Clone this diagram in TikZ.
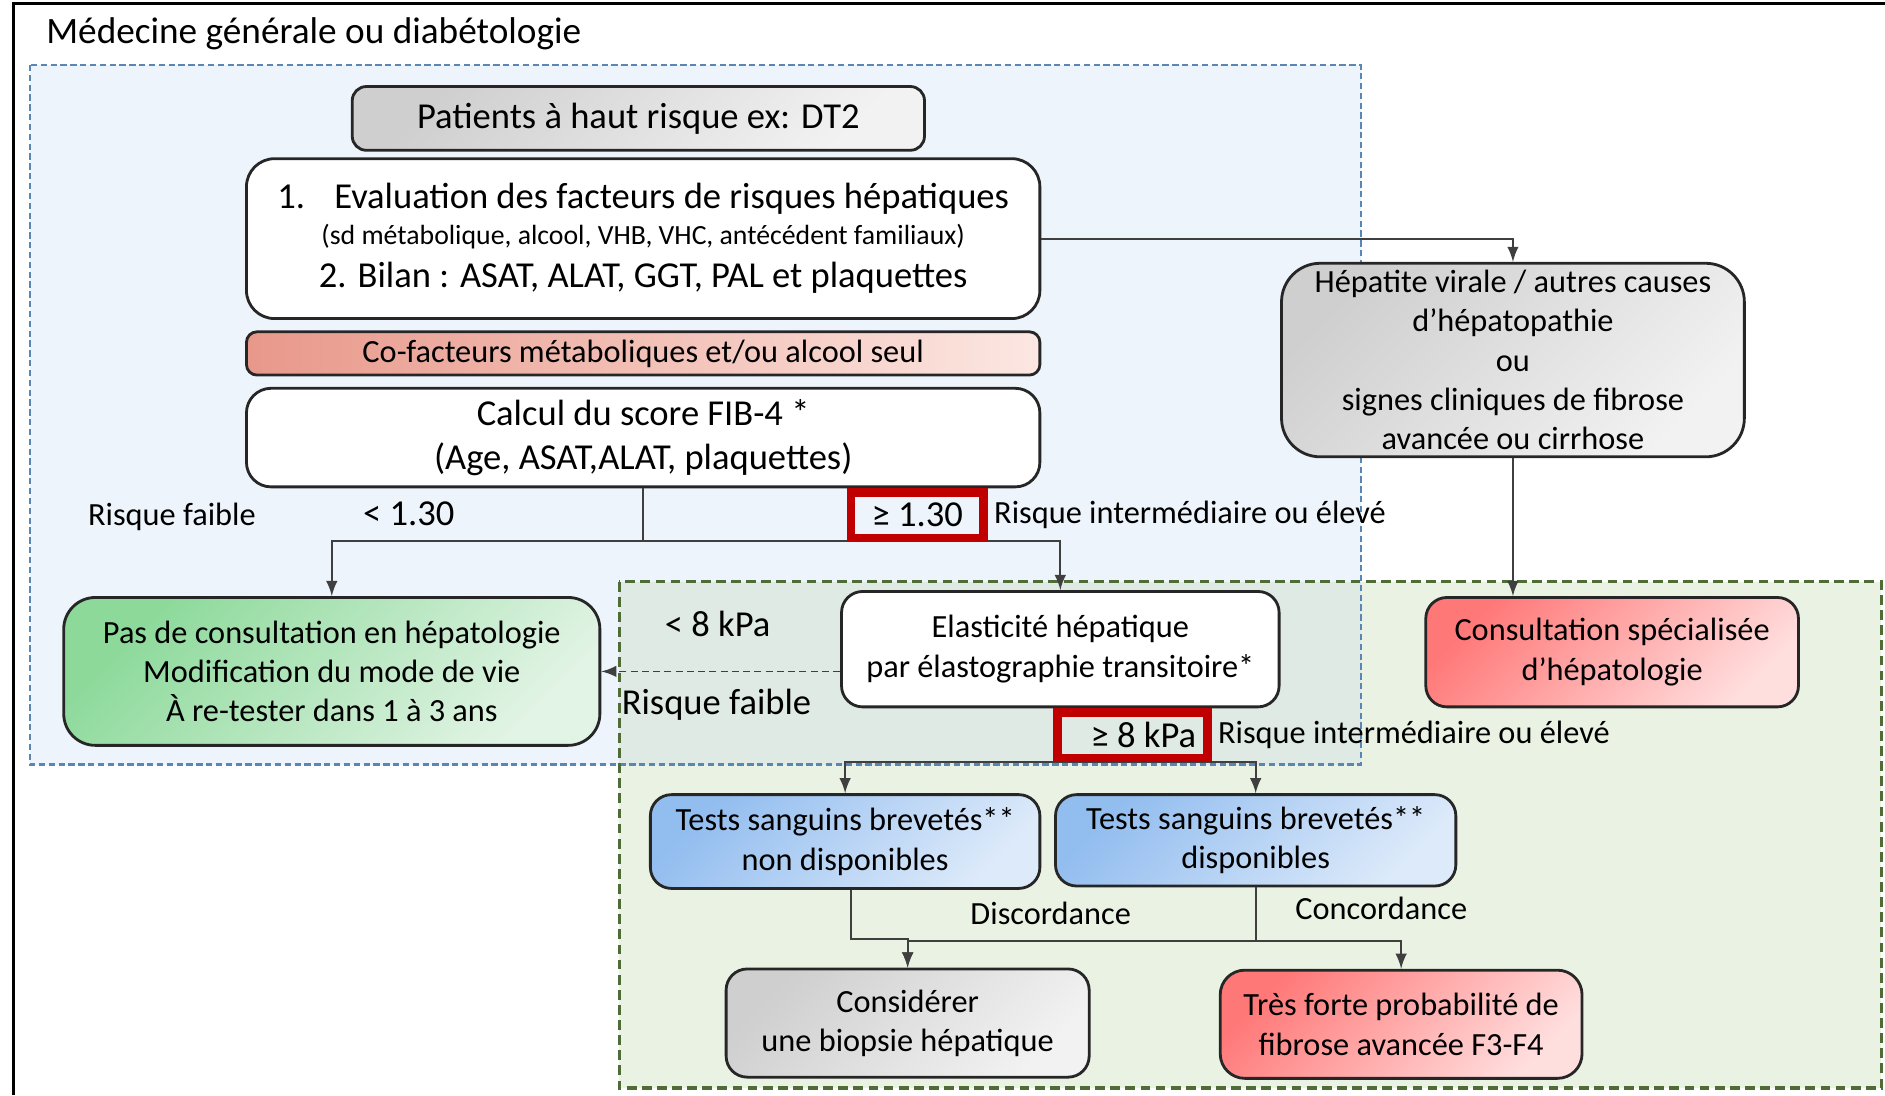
\documentclass[tikz,border=0pt]{standalone}
\usepackage{fontspec}
\setmainfont{Carlito}
\usepackage{tikz}
\usetikzlibrary{arrows, positioning}

\definecolor{zone-blue}{HTML}{EDF4FB}
\definecolor{zone-green}{HTML}{EAF3E3}
\definecolor{zone-mix}{HTML}{DEEAE3}
\definecolor{dash-blue}{HTML}{5A86B6}
\definecolor{dash-green}{HTML}{4F6B36}
\definecolor{gray-dark}{HTML}{CFCFCF}
\definecolor{gray-light}{HTML}{F2F2F2}
\definecolor{green-dark}{HTML}{8CD99A}
\definecolor{green-light}{HTML}{E2F4E5}
\definecolor{red-dark}{HTML}{FF7878}
\definecolor{red-light}{HTML}{FFDEDE}
\definecolor{blue-dark}{HTML}{92BDEF}
\definecolor{blue-light}{HTML}{DDEAFA}
\definecolor{salmon-dark}{HTML}{E8988A}
\definecolor{salmon-light}{HTML}{FCE7E2}
\definecolor{cut-red}{HTML}{C00000}
\definecolor{wire-gray}{HTML}{3F3F3F}

\newlength\pxu
\setlength\pxu{0.012022cm}
\newcommand\txt{\fontsize{9.2pt}{11.2pt}\selectfont}
\newcommand\txtbig{\fontsize{10.4pt}{12.4pt}\selectfont}
\newcommand\txtsmall{\fontsize{7.9pt}{9.5pt}\selectfont}
\newcommand\txttitle{\fontsize{10.6pt}{12.7pt}\selectfont}

\begin{document}
\begin{tikzpicture}[
    x=0.012022cm, y=-0.012022cm,
    box/.style={rectangle, draw=black!85, line width=0.8pt, rounded corners=5pt, align=center, inner sep=0pt, font=\txt},
    plain/.style={box, fill=white},
    graybox/.style={box, top color=gray-dark, bottom color=gray-light, shading angle=45},
    greenbox/.style={box, top color=green-dark, bottom color=green-light, shading angle=45},
    redbox/.style={box, top color=red-dark, bottom color=red-light, shading angle=45},
    bluebox/.style={box, top color=blue-dark, bottom color=blue-light, shading angle=45},
    cutbox/.style={rectangle, draw=cut-red, line width=2.4pt, inner sep=0pt, minimum height=38\pxu, font=\txtbig},
    note/.style={inner sep=0pt, font=\txt},
    notebig/.style={inner sep=0pt, font=\txtbig},
    wire/.style={draw=wire-gray, line width=0.5pt},
    arrow/.style={wire, ->, >=latex},
    dasharrow/.style={arrow, dash pattern=on 2pt off 1.2pt}
]
\useasboundingbox (0,0) rectangle (1568,911);

% zones
\fill[zone-blue] (25,54) rectangle (1132,636);
\fill[zone-green] (515,484) rectangle (1565,905);
\fill[zone-mix] (515,484) rectangle (1132,636);
\draw[dash-blue, line width=0.7pt, dash pattern=on 1.8pt off 1pt] (25,54) rectangle (1132,636);
\draw[dash-green, line width=0.9pt, dash pattern=on 2.8pt off 1.5pt] (515,484) rectangle (1565,905);
\draw[line width=0.9pt] (11,911) -- (11,3) -- (1568,3);

\node[anchor=west, inner sep=0pt, font=\txttitle] (title) at (38,28) {Médecine générale ou diabétologie};

% parcours en médecine générale
\node[graybox, rounded corners=4pt, minimum width=476\pxu, minimum height=53\pxu, font=\txtbig] (patients) at (531,98.5) {Patients à haut risque ex: DT2};
\node[plain, rounded corners=8pt, minimum width=660\pxu, minimum height=133\pxu, font=\txtbig] (eval) at (535,198.5)
    {1.\hspace{0.8em}Evaluation des facteurs de risques hépatiques\\[-2.3pt]
     {\txtsmall (sd métabolique, alcool, VHB, VHC, antécédent familiaux)}\\
     2. Bilan : ASAT, ALAT, GGT, PAL et plaquettes};
\node[box, rounded corners=3pt, left color=salmon-dark, right color=salmon-light, minimum width=660\pxu, minimum height=36\pxu] (cofact) at (535,294) {Co-facteurs métaboliques et/ou alcool seul};
\node[plain, rounded corners=7pt, minimum width=660\pxu, minimum height=82\pxu, font=\txtbig] (fib4) at (535,364) {Calcul du score FIB-4 *\\(Age, ASAT,ALAT, plaquettes)};
\node[graybox, rounded corners=11pt, minimum width=385\pxu, minimum height=161\pxu] (hep) at (1258.5,299.5)
    {Hépatite virale / autres causes\\d’hépatopathie\\ou\\signes cliniques de fibrose\\avancée ou cirrhose};
\node[greenbox, rounded corners=9pt, minimum width=446\pxu, minimum height=123\pxu] (nocons) at (276,558.5)
    {Pas de consultation en hépatologie\\Modification du mode de vie\\À re-tester dans 1 à 3 ans};
\node[plain, rounded corners=6pt, minimum width=364\pxu, minimum height=96\pxu] (elast) at (882,540) {Elasticité hépatique\\par élastographie transitoire*};
\node[redbox, rounded corners=6pt, minimum width=310\pxu, minimum height=91\pxu] (consult) at (1341,542.5) {Consultation spécialisée\\d’hépatologie};

% tests sanguins
\node[bluebox, rounded corners=6pt, minimum width=324\pxu, minimum height=78\pxu] (testsN) at (703,700) {Tests sanguins brevetés**\\non disponibles};
\node[bluebox, rounded corners=6pt, minimum width=333\pxu, minimum height=76\pxu] (testsD) at (1044.5,699) {Tests sanguins brevetés**\\disponibles};
\node[graybox, rounded corners=6pt, minimum width=302\pxu, minimum height=90\pxu] (biopsy) at (755,851) {Considérer\\une biopsie hépatique};
\node[redbox, rounded corners=7pt, minimum width=301\pxu, minimum height=90\pxu] (tres) at (1165.5,852) {Très forte probabilité de\\fibrose avancée F3-F4};

% connecteurs
\coordinate (fork1) at (535,450);
\coordinate (fork2) at (882,634);
\coordinate (fork3) at (1044.5,783);

\draw[arrow] (eval.east) -| (hep.north);
\draw[arrow] (hep.south) -- (hep.south |- consult.north);
\draw[wire] (fib4.south) -- (fork1);
\draw[arrow] (fork1) -| (nocons.north);
\draw[arrow] (fork1) -| (elast.north);
\draw[dasharrow] (nocons.east -| elast.west) -- (nocons.east);
\draw[wire] (elast.south) -- (fork2);
\draw[arrow] (fork2) -| (testsN.north);
\draw[arrow] (fork2) -| (testsD.north);
\draw[arrow] ([xshift=5\pxu]testsN.south) -- ++(0,41) -| (biopsy.north);
\draw[wire] (testsD.south) -- (fork3);
\draw[arrow] (fork3) -| (biopsy.north);
\draw[arrow] (fork3) -| (tres.north);

% seuils
\node[cutbox, minimum width=110.5\pxu] (ge130) at (763,428.5) {≥ 1.30};
\node[cutbox, minimum width=125\pxu] (ge8) at (942,611.5) {\hspace*{0.6em}≥ 8 kPa};
\node[note, right=1.6pt of ge130] (riskhigh1) {Risque intermédiaire ou élevé};
\node[note, right=1.6pt of ge8] (riskhigh2) {Risque intermédiaire ou élevé};
\node[note] (risklow1) at (143,430) {Risque faible};
\node[notebig] (lt130) at (340,427) {< 1.30};
\node[notebig] (lt8) at (597,519) {< 8 kPa};
\node[notebig] (risklow2) at (596,586) {Risque faible};
\node[note] (discord) at (874,760) {Discordance};
\node[note] (concord) at (1149,756) {Concordance};

\end{tikzpicture}
\end{document}
